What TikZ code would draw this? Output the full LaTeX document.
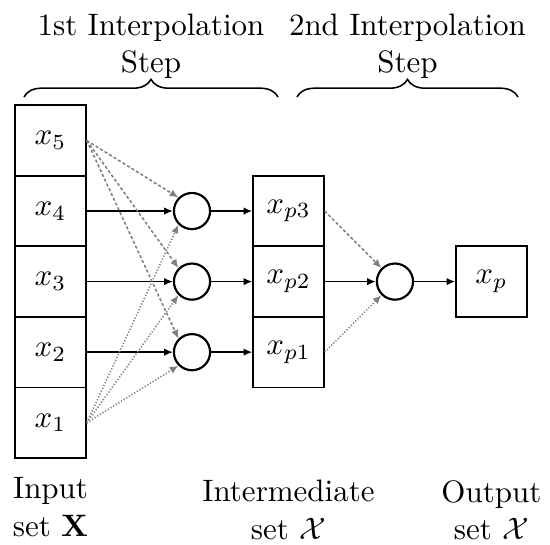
\documentclass[tikz,border=0pt]{standalone}
\usepackage{amsmath}
\usepackage{amssymb}
\usetikzlibrary{arrows.meta,positioning,decorations.pathreplacing}
\tikzset{
    cell/.style={
    rectangle,draw=black,line width=0.6pt,minimum width=0.8cm,minimum height=0.8cm,inner sep=0pt
    },
    joint/.style={
    circle,draw=black,line width=0.7pt,minimum size=0.41cm,inner sep=0pt
    },
    upper/.style={
    ->,draw=gray,line width=0.5pt,dash pattern=on 1pt off 0.7pt
    },
    lower/.style={
    ->,draw=gray,line width=0.5pt,dash pattern=on 0.4pt off 0.6pt
    },
    stepbrace/.style={
    decorate,decoration={brace,amplitude=0.2cm},line width=0.5pt
    },
    title/.style={
    align=center,anchor=south,inner sep=0pt,yshift=0.2cm
    },
    setlabel/.style={
    align=center,anchor=north,inner sep=0pt
    },
}
\begin{document}
\begin{tikzpicture}[>={Latex[length=2.8pt,width=2.4pt]}, line width=0.5pt, node distance=0.8cm, on grid, auto]
   \useasboundingbox (0,0) rectangle (6.236,-6.179);
   % input set
   \node[cell] (x5) at (0.573,-1.593) {$x_5$};
   \node[cell] (x4) [below=of x5] {$x_4$};
   \node[cell] (x3) [below=of x4] {$x_3$};
   \node[cell] (x2) [below=of x3] {$x_2$};
   \node[cell] (x1) [below=of x2] {$x_1$};
   % first step
   \node[joint] (j3) [right=1.604cm of x4] {};
   \node[joint] (j2) [right=1.604cm of x3] {};
   \node[joint] (j1) [right=1.604cm of x2] {};
   % intermediate set
   \node[cell] (xp3) [right=1.094cm of j3] {$x_{p3}$};
   \node[cell] (xp2) [below=of xp3] {$x_{p2}$};
   \node[cell] (xp1) [below=of xp2] {$x_{p1}$};
   % second step
   \node[joint] (j0) [right=1.207cm of xp2] {};
   \node[cell] (xp) [right=1.094cm of j0] {$x_p$};

  \path[->]
             (x4)  edge (j3)
             (x3)  edge (j2)
             (x2)  edge (j1)
             (j3)  edge (xp3)
             (j2)  edge (xp2)
             (j1)  edge (xp1)
             (xp2) edge (j0)
             (j0)  edge (xp);
  \path
             (x5.east)  edge [upper] (j3.north west)
                        edge [upper] (j2.north west)
                        edge [upper] (j1.north west)
             (x1.east)  edge [lower] (j3.south west)
                        edge [lower] (j2.south west)
                        edge [lower] (j1.south west)
             (xp3.east) edge [upper] (j0.north west)
             (xp1.east) edge [lower] (j0.south west);

  % braces and labels
  \draw[stepbrace] (0.272,-1.10) -- (3.152,-1.10) node [midway,title] (s1) {1st Interpolation\\Step};
  \draw[stepbrace] (3.367,-1.10) -- (5.873,-1.10) node [midway,title] (s2) {2nd Interpolation\\Step};
  \node[setlabel] (inlbl) at ([yshift=-0.205cm]x1.south) {Input\\set $\mathbf{X}$};
  \node[setlabel] (midlbl) at ([yshift=-0.03cm]xp1 |- inlbl.north) {Intermediate\\set $\mathcal{X}$};
  \node[setlabel] (outlbl) at ([yshift=-0.03cm]xp |- inlbl.north) {Output\\set $\mathcal{X}$};
\end{tikzpicture}
\end{document}
